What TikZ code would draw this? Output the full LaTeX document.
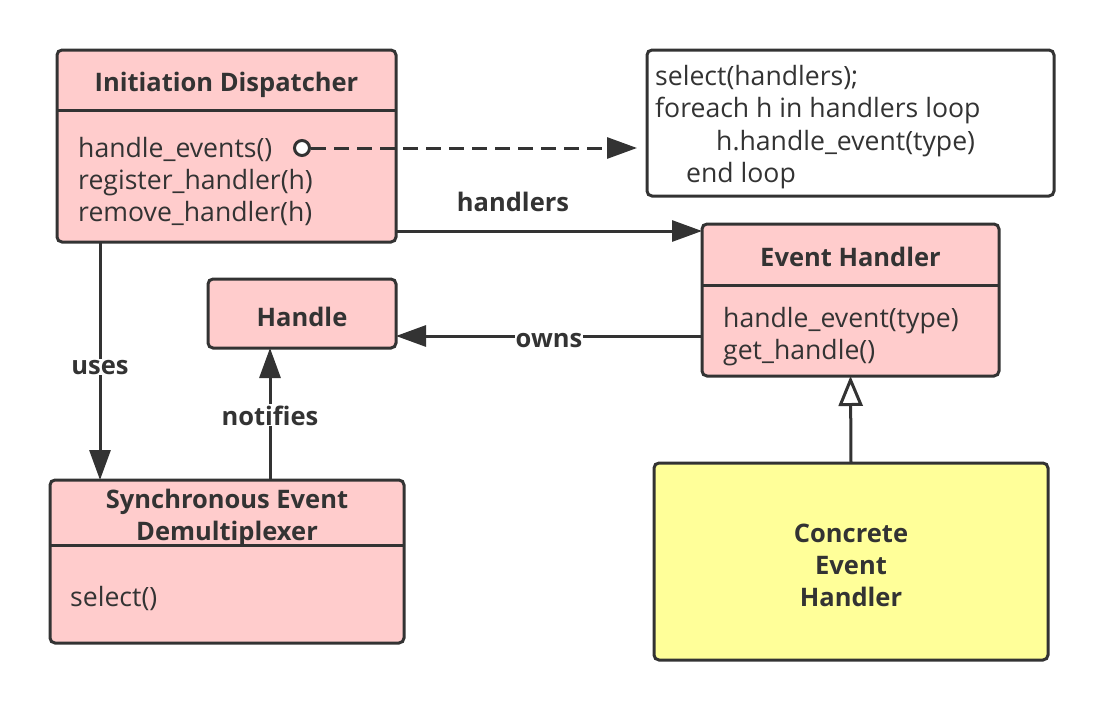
\documentclass[tikz,border=0pt]{standalone}
\usepackage{fontspec}
\setmainfont{Open Sans}
\usetikzlibrary{arrows.meta}
\definecolor{ink}{HTML}{333333}
\definecolor{pinkf}{HTML}{FFCCCC}
\definecolor{yellf}{HTML}{FFFF99}
\begin{document}
\begin{tikzpicture}[x=1pt,y=-1pt,
  box/.style={draw=ink, line width=3pt, rounded corners=5pt, inner sep=0pt, outer sep=0pt},
  divider/.style={draw=ink, line width=3pt},
  txt/.style={inner sep=0pt, anchor=base west, text=ink, font=\fontsize{26.6}{30}\selectfont},
  ttl/.style={inner sep=0pt, anchor=base, text=ink, font=\fontsize{25.5}{30}\selectfont\bfseries},
  lbl/.style={inner sep=1pt, anchor=base, text=ink, font=\fontsize{25.5}{30}\selectfont\bfseries},
  conn/.style={draw=ink, line width=3pt},
  tip/.style={-{Triangle[length=30pt,width=21pt]}},
  opentip/.style={-{Triangle[open,length=30pt,width=24pt,fill=white]}},
]
\useasboundingbox (0,0) rectangle (1104,710);
\fill[white] (0,0) rectangle (1104,710);

% boxes
\node[box, fill=pinkf, minimum width=339pt, minimum height=192pt] (disp) at (226.5,146) {};
\draw[divider] (57,110) -- (396,110);
\node[box, fill=white, minimum width=407pt, minimum height=146pt] (note) at (850.5,123) {};
\node[box, fill=pinkf, minimum width=297pt, minimum height=152pt] (evh) at (850.5,300) {};
\draw[divider] (702,285) -- (999,285);
\node[box, fill=pinkf, minimum width=188pt, minimum height=69pt] (hdl) at (302,313.5) {};
\node[box, fill=pinkf, minimum width=354pt, minimum height=163pt] (sync) at (227,561.5) {};
\draw[divider] (50,545) -- (404,545);
\node[box, fill=yellf, minimum width=394pt, minimum height=197pt] (conc) at (851,561.5) {};

% texts
\node[ttl] (dispT) at (226.5,91) {Initiation Dispatcher};
\node[txt] (dispM1) at (78,157) {handle\_events()};
\node[txt] (dispM2) at (78,189) {register\_handler(h)};
\node[txt] (dispM3) at (78,221) {remove\_handler(h)};

\node[txt] (n1) at (655,85) {select(handlers);};
\node[txt] (n2) at (655,117) {foreach h in handlers loop};
\node[txt] (n3) at (716,150) {h.handle\_event(type)};
\node[txt] (n4) at (686,182) {end loop};

\node[ttl] (evhT) at (850.5,266) {Event Handler};
\node[txt] (evhM1) at (723,327) {handle\_event(type)};
\node[txt] (evhM2) at (723,359) {get\_handle()};

\node[ttl] (hdlT) at (302,326) {Handle};

\node[ttl] (syncT1) at (227,508) {Synchronous Event};
\node[ttl] (syncT2) at (227,540) {Demultiplexer};
\node[txt] (syncM) at (70,606) {select()};

\node[ttl] (concT1) at (851,542) {Concrete};
\node[ttl] (concT2) at (851,574) {Event};
\node[ttl] (concT3) at (851,606) {Handler};

% connectors
\node[circle, draw=ink, line width=3pt, fill=white, inner sep=0pt, minimum size=15pt] (dot) at (302,148) {};
\draw[conn, dash pattern=on 15pt off 8pt, tip] (dot.east) -- ([xshift=-10pt,yshift=-25pt]note.west);

\draw[conn, tip] ([yshift=11pt]disp.south east) -- ([yshift=-7pt]evh.north west);
\node[lbl] (lh) at (513,211) {handlers};

\draw[conn, tip] ([yshift=40pt]evh.south west) -- ([yshift=12pt]hdl.south east);
\node[lbl, fill=white] (lo) at (549,347) {owns};

\draw[conn, tip] ([xshift=43pt]disp.south west) -- ([xshift=50pt]sync.north west);
\node[lbl, fill=white] (lu) at (100,374) {uses};

\draw[conn, tip] ([xshift=220pt]sync.north west) -- ([xshift=62pt]hdl.south west);
\node[lbl, fill=white] (ln) at (270,425) {notifies};

\draw[conn, opentip] (conc.north) -- (evh.south);
\end{tikzpicture}
\end{document}
